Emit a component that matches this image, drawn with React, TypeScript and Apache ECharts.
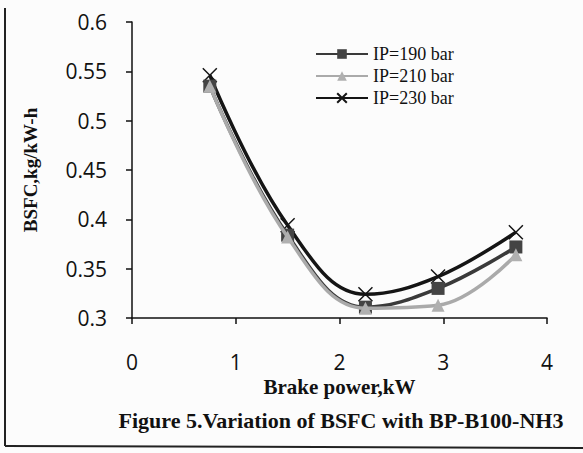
import React, { useEffect, useRef } from "react";
import * as echarts from "echarts";

const brakePower190 = [0.75, 1.5, 2.25, 2.95, 3.7];
const bsfc190 = [0.535, 0.384, 0.311, 0.33, 0.372];
const brakePower210 = [0.75, 1.5, 2.25, 2.95, 3.7];
const bsfc210 = [0.535, 0.382, 0.31, 0.313, 0.364];
const brakePower230 = [0.75, 1.5, 2.25, 2.95, 3.7];
const bsfc230 = [0.546, 0.394, 0.324, 0.342, 0.387];
const seriesNames = ["IP=190 bar", "IP=210 bar", "IP=230 bar"];

const serif = "'Liberation Serif', 'Times New Roman', serif";
const sans = "'Open Sans', 'Noto Sans', sans-serif";

export default function App() {
  const ref = useRef<HTMLDivElement>(null);
  useEffect(() => {
    document.body.style.margin = "0";
    const chart = echarts.init(ref.current!, null, { renderer: "svg" });
    const pair = (xs: number[], ys: number[]) => xs.map((x, i) => [x, ys[i]]);
    chart.setOption({
      animation: false,
      backgroundColor: "#fcfcfc",
      grid: { left: 132, top: 22, right: 36, bottom: 135 },
      xAxis: {
        type: "value",
        min: 0,
        max: 4,
        interval: 1,
        axisLine: { show: true, lineStyle: { color: "#111", width: 1.5 } },
        axisTick: { show: true, length: 6, lineStyle: { color: "#111", width: 1.5 } },
        axisLabel: { color: "#111", fontSize: 21, fontFamily: sans, margin: 33 },
        splitLine: { show: false },
        name: "Brake power,kW",
        nameLocation: "middle",
        nameGap: 58,
        nameTextStyle: { color: "#111", fontSize: 21, fontWeight: "bold", fontFamily: serif },
      },
      yAxis: {
        type: "value",
        min: 0.3,
        max: 0.6,
        interval: 0.05,
        axisLine: { show: true, lineStyle: { color: "#111", width: 1.5 } },
        axisTick: { show: true, length: 6, lineStyle: { color: "#111", width: 1.5 } },
        axisLabel: { color: "#111", fontSize: 21, fontFamily: sans, margin: 25 },
        splitLine: { show: false },
        name: "BSFC,kg/kW-h",
        nameLocation: "middle",
        nameGap: 92,
        nameTextStyle: { color: "#111", fontSize: 19, fontWeight: "bold", fontFamily: serif },
      },
      legend: {
        orient: "vertical",
        left: 310,
        top: 40,
        itemWidth: 52,
        itemHeight: 12,
        itemGap: 4,
        textStyle: { color: "#111", fontSize: 18, fontFamily: serif },
        data: seriesNames,
      },
      series: [
        {
          name: seriesNames[0],
          type: "line",
          smooth: 0.4,
          data: pair(brakePower190, bsfc190),
          symbol: "rect",
          symbolSize: 13,
          lineStyle: { color: "#3a3a3a", width: 3.5 },
          itemStyle: { color: "#444" },
          z: 2,
        },
        {
          name: seriesNames[1],
          type: "line",
          smooth: 0.4,
          data: pair(brakePower210, bsfc210),
          symbol: "triangle",
          symbolSize: 13,
          lineStyle: { color: "#aaaaaa", width: 3.5 },
          itemStyle: { color: "#b0b0b0" },
          z: 3,
        },
        {
          name: seriesNames[2],
          type: "line",
          smooth: 0.4,
          data: pair(brakePower230, bsfc230),
          symbol: "path://M0,0L10,10M10,0L0,10",
          symbolSize: 14,
          lineStyle: { color: "#151515", width: 3.5 },
          itemStyle: { color: "#151515", borderColor: "#151515", borderWidth: 1.5 },
          z: 1,
        },
      ],
      title: {
        text: "Figure 5.Variation of BSFC with BP-B100-NH3",
        left: 336,
        textAlign: "center",
        top: 404,
        textStyle: { color: "#111", fontSize: 22, fontWeight: "bold", fontFamily: serif },
      },
      graphic: [
        { type: "line", shape: { x1: 5, y1: 8, x2: 5, y2: 446 }, style: { stroke: "#222", lineWidth: 2 } },
        { type: "line", shape: { x1: 5, y1: 446, x2: 583, y2: 448 }, style: { stroke: "#222", lineWidth: 2 } },
      ],
    });
    return () => chart.dispose();
  }, []);
  return <div ref={ref} style={{ width: 583, height: 453 }} />;
}
